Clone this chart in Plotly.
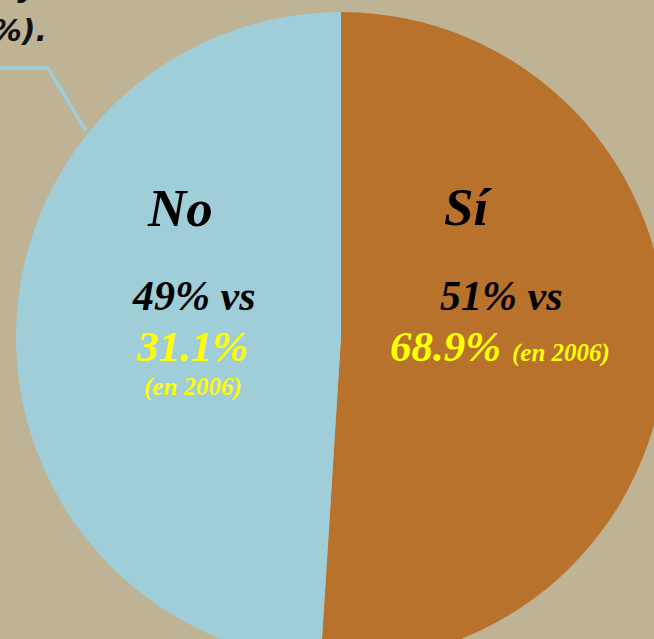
import plotly.graph_objects as go

# Data
labels = ["Sí", "No"]
values = [51, 49]
values_2006 = [68.9, 31.1]
colors = ["#B8722B", "#9FCDD8"]

W, H = 680, 680
BG = "#BEB395"

def px(x):
    return x / W

def py(y):
    return 1 - y / H

fig = go.Figure()
fig.add_trace(go.Pie(
    labels=labels, values=values, sort=False, direction="clockwise", rotation=0,
    marker=dict(colors=colors, line=dict(width=0)),
    textinfo="none", hoverinfo="label+percent", showlegend=False,
    domain=dict(x=[px(16), px(666)], y=[py(662), py(12)]),
))

serif = "Liberation Serif"
ann = []
def add(text, x, y, size, color, xanchor="center"):
    ann.append(dict(text=f"<b><i>{text}</i></b>", x=px(x), y=py(y), xref="paper", yref="paper",
                    xanchor=xanchor, yanchor="middle", showarrow=False,
                    font=dict(family=serif, size=size, color=color)))

add(labels[1], 180, 208, 53, "black")
add(f"{values[1]}% vs", 193, 296, 42, "black")
add(f"{values_2006[1]}%", 192, 346, 43, "#FFFF00")
add("(en 2006)", 193, 387, 25, "#FFFF00")
add(labels[0], 468, 207, 53, "black")
add(f"{values[0]}% vs", 501, 296, 42, "black")
add(f"{values_2006[0]}%", 445, 346, 43, "#FFFF00")
add("(en 2006)", 561, 353, 25, "#FFFF00")

# Partial caption text at top-left (cut off by the page edge)
for t, x, y in [("(20.5%), y", 40, -14), ("(19.9%).", 49, 31)]:
    ann.append(dict(text=f"<b><i>{t}</i></b>", x=px(x), y=py(y), xref="paper", yref="paper",
                    xanchor="right", yanchor="middle", showarrow=False,
                    font=dict(family="DejaVu Sans", size=30, color="#111111")))

fig.update_layout(
    width=W, height=H, autosize=False,
    margin=dict(l=0, r=0, t=0, b=0),
    paper_bgcolor=BG, plot_bgcolor=BG,
    annotations=ann,
    shapes=[dict(type="path", xref="paper", yref="paper",
                 path=f"M {px(-5)} {py(68)} L {px(48)} {py(68)} L {px(86)} {py(131)}",
                 line=dict(color="#9FCDD8", width=3.5))],
)

fig.write_html("out.html", config={"displayModeBar": False}, post_script=(
    "document.body.style.margin='0';document.body.style.overflow='hidden';"
    "document.documentElement.style.overflow='hidden';"))
